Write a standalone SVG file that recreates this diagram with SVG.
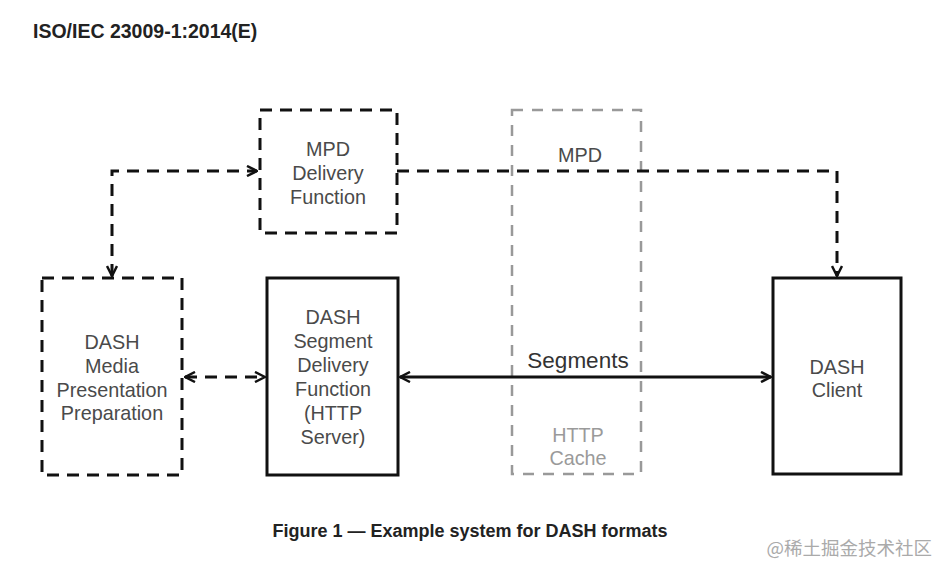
<svg xmlns="http://www.w3.org/2000/svg" width="938" height="564" viewBox="0 0 938 564">
<defs>
<style>
.t{font-family:"Liberation Sans",Arial,sans-serif;font-size:19.8px;fill:#4a4a4a;text-anchor:middle}
.g{fill:#9a9a9a}
.b{font-family:"Liberation Sans",Arial,sans-serif;font-weight:bold;fill:#222}
.dash{fill:none;stroke:#111;stroke-width:3;stroke-dasharray:12 8}
.solid{fill:none;stroke:#111;stroke-width:3}
.cache{fill:none;stroke:#999;stroke-width:2.5;stroke-dasharray:11 9}
.ln{fill:none;stroke:#111;stroke-width:3}
</style>
<marker id="arr" viewBox="0 0 12 12" refX="11" refY="6" markerWidth="12" markerHeight="12" markerUnits="userSpaceOnUse" orient="auto-start-reverse">
<path d="M1,1 L11,6 L1,11" fill="none" stroke="#111" stroke-width="2.5" stroke-linejoin="round"/>
</marker>
</defs>
<rect width="938" height="564" fill="#fff"/>
<text class="b" x="33" y="38" font-size="19.5">ISO/IEC 23009-1:2014(E)</text>

<g id="http-cache">
<rect class="cache" x="512" y="110" width="129" height="364"/>
<text class="t" x="580" y="162">MPD</text>
<text class="t g" x="578" y="442">HTTP</text>
<text class="t g" x="578" y="465">Cache</text>
</g>

<g id="mpd-delivery">
<rect class="dash" x="260" y="110" width="137" height="123"/>
<text class="t" x="328" y="156">MPD</text>
<text class="t" x="328" y="180">Delivery</text>
<text class="t" x="328" y="204">Function</text>
</g>

<g id="media-prep">
<rect class="dash" x="42" y="278" width="140" height="197"/>
<text class="t" x="112" y="349">DASH</text>
<text class="t" x="112" y="373">Media</text>
<text class="t" x="112" y="397">Presentation</text>
<text class="t" x="112" y="420">Preparation</text>
</g>

<g id="segment-delivery">
<rect class="solid" x="267" y="278" width="131" height="197"/>
<text class="t" x="333" y="324">DASH</text>
<text class="t" x="333" y="348">Segment</text>
<text class="t" x="333" y="372">Delivery</text>
<text class="t" x="333" y="396">Function</text>
<text class="t" x="333" y="420">(HTTP</text>
<text class="t" x="333" y="444">Server)</text>
</g>

<g id="dash-client">
<rect class="solid" x="773" y="278" width="128" height="196"/>
<text class="t" x="837" y="374">DASH</text>
<text class="t" x="837" y="397">Client</text>
</g>

<g id="connectors">
<path class="dash" d="M112,276 L112,171 L257,171" marker-start="url(#arr)" marker-end="url(#arr)"/>
<path class="dash" d="M397,171 L837,171 L837,276" marker-end="url(#arr)"/>
<path class="dash" d="M185,377 L265,377" marker-start="url(#arr)" marker-end="url(#arr)"/>
<path class="ln" d="M400,377 L771,377" marker-start="url(#arr)" marker-end="url(#arr)"/>
<text class="t" x="578" y="368" style="font-size:22.5px;fill:#333">Segments</text>
</g>

<text class="b" x="470" y="537" font-size="18" text-anchor="middle">Figure 1 — Example system for DASH formats</text>
<text x="932" y="555" font-family="'Noto Sans CJK SC',sans-serif" font-size="18.5" fill="#aaa" text-anchor="end">@稀土掘金技术社区</text>
</svg>
